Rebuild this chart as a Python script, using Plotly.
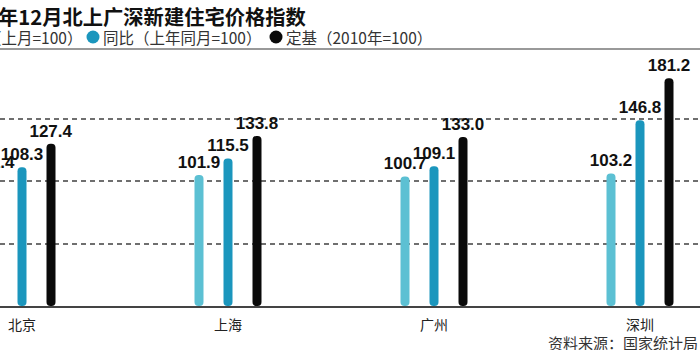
import plotly.graph_objects as go

# ---- data ----
cities = ["北京", "上海", "广州", "深圳"]
mom = [101.4, 101.9, 100.7, 103.2]      # 环比（上月=100）
yoy = [108.3, 115.5, 109.1, 146.8]      # 同比（上年同月=100）
fixed = [127.4, 133.8, 133.0, 181.2]    # 定基（2010年=100）
series_names = ["环比（上月=100）", "同比（上年同月=100）", "定基（2010年=100）"]
title_text = "年12月北上广深新建住宅价格指数"
source_text = "资料来源：国家统计局"

# ---- layout geometry ----
W, H = 700, 350
T, B = 60, 44
PLOT_H = H - T - B
BASE_PX = H - B
K = 1.22            # px per unit
V0 = -5.5           # value at axis line
YTOP = V0 + PLOT_H / K

def fx(p):
    return p / W

def fy(p):
    return (BASE_PX - p) / PLOT_H

GROUP_PX = 206.0
BAR_W = 9 / GROUP_PX
SLOT = 29 / GROUP_PX
colors = ["#5cc0d3", "#1b96bd", "#0a0a0a"]
offsets = [-SLOT, 0, SLOT]
LABEL_FONT = dict(family="Liberation Sans", size=17, color="#111", weight="bold")

x_left = -22 / GROUP_PX
x_right = (W - 22) / GROUP_PX

fig = go.Figure()
for name, vals, col, off in zip(series_names, [mom, yoy, fixed], colors, offsets):
    fig.add_trace(go.Bar(
        x=cities,
        y=[v - V0 for v in vals],
        base=V0,
        name=name,
        width=BAR_W,
        offset=off - BAR_W / 2,
        marker=dict(color=col, line=dict(width=0), cornerradius="50%"),
        text=[f"{v:.1f}" for v in vals],
        textposition="outside",
        constraintext="none",
        cliponaxis=False,
        textfont=LABEL_FONT,
        showlegend=False,
        hoverinfo="skip",
    ))

fig.update_layout(
    width=W, height=H,
    margin=dict(l=0, r=0, t=T, b=B),
    paper_bgcolor="white",
    plot_bgcolor="white",
    barmode="overlay",
    xaxis=dict(
        type="category",
        range=[x_left, x_right],
        showline=True, linecolor="#444", linewidth=1.5,
        showgrid=False, zeroline=False,
        ticks="outside", ticklen=5, tickcolor="rgba(0,0,0,0)",
        tickfont=dict(family="Noto Sans CJK SC", size=14, color="#222"),
    ),
    yaxis=dict(
        range=[V0, YTOP],
        showticklabels=False,
        zeroline=False,
        showgrid=True,
        gridcolor="#6f6f6f",
        griddash="5px,4px",
        gridwidth=1.5,
        tick0=V0,
        dtick=51.2,
    ),
)

# label of the first-series bar that sits off the left edge (partly visible)
first_x_paper = (0 + offsets[0] - x_left) / (x_right - x_left)
first_top_paper = (mom[0] - V0) / (YTOP - V0)

legend_font = dict(family="Noto Sans CJK SC", size=15.5, color="#333")
annotations = [
    dict(text=f"<b>{title_text}</b>", x=fx(-4), y=fy(16), xanchor="left", yanchor="middle",
         font=dict(family="Noto Sans CJK SC", size=20.3, color="#111")),
    dict(text=series_names[0], x=fx(84), y=fy(37), xanchor="right", yanchor="middle",
         font=legend_font),
    dict(text=series_names[1], x=fx(101), y=fy(37), xanchor="left", yanchor="middle",
         font=legend_font),
    dict(text=series_names[2], x=fx(284), y=fy(37), xanchor="left", yanchor="middle",
         font=legend_font),
    dict(text=source_text, x=1, y=fy(342), xanchor="right", yanchor="middle",
         font=dict(family="Noto Sans CJK SC", size=15, color="#333")),
    dict(text=f"{mom[0]:.1f}", x=first_x_paper, y=first_top_paper, xanchor="center",
         yanchor="bottom", yshift=2, font=LABEL_FONT),
]
for a in annotations:
    a.update(xref="paper", yref="paper", showarrow=False)
fig.update_layout(annotations=annotations)

shapes = [
    dict(type="line", xref="paper", yref="paper", x0=0, x1=1, y0=fy(49), y1=fy(49),
         line=dict(color="#999", width=2)),
]
for cx, col in [(93, colors[1]), (276, colors[2])]:
    r = 6.5
    shapes.append(dict(type="circle", xref="paper", yref="paper",
                       x0=fx(cx - r), x1=fx(cx + r), y0=fy(37 + r), y1=fy(37 - r),
                       fillcolor=col, line=dict(width=0)))
fig.update_layout(shapes=shapes)

fig.write_html("out.html")
